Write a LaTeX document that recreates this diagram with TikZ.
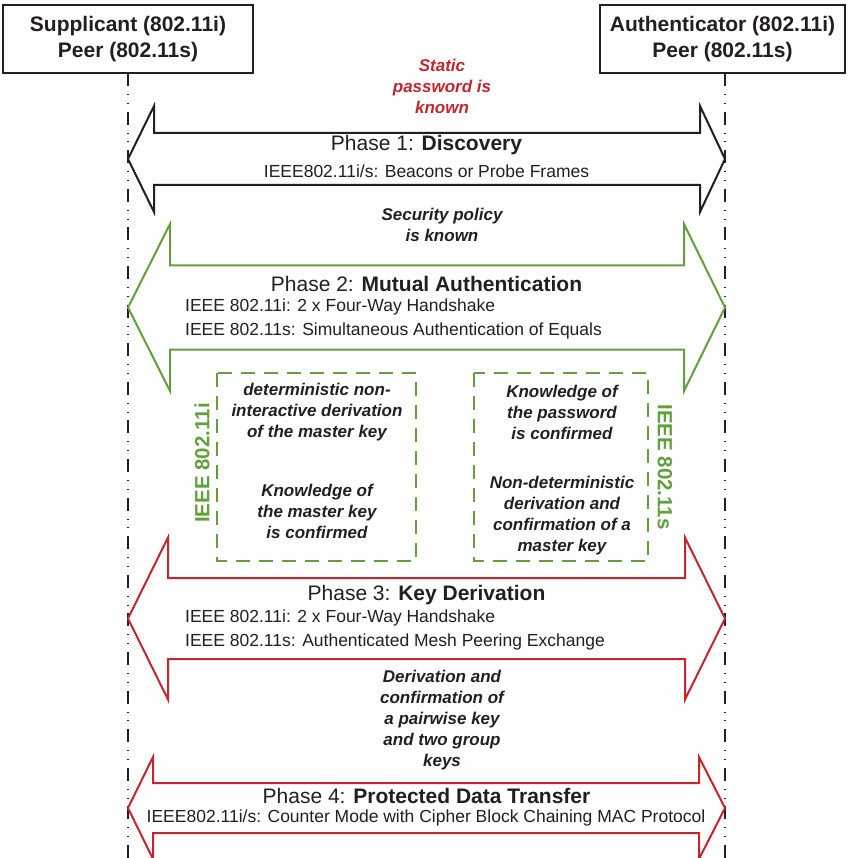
\documentclass[tikz,border=0pt]{standalone}
\usepackage{fontspec}
\setmainfont{Liberation Sans}
\begin{document}
\definecolor{ink}{HTML}{231F20}
\definecolor{phgreen}{HTML}{62A03E}
\definecolor{phred}{HTML}{C1272D}
\newcommand\phasearrow[6]{%
  \draw[#1] (128,#2) -- (#3,#2-#5) -- (#3,#2-#6) -- (#4,#2-#6) -- (#4,#2-#5)
    -- (725,#2) -- (#4,#2+#5) -- (#4,#2+#6) -- (#3,#2+#6) -- (#3,#2+#5) -- cycle;}
\begin{tikzpicture}[x=1pt,y=-1pt,
  every node/.style={text=ink},
  titlebox/.style={draw=ink,line width=2pt,fill=white,align=center,inner sep=0pt,
    font=\fontsize{21}{26}\selectfont\bfseries},
  lifeline/.style={draw=ink,line width=1.2pt,
    dash pattern=on 13pt off 8pt on 0.8pt off 8pt on 0.8pt off 8pt},
  arrowblack/.style={draw=ink,line width=2pt,line join=miter},
  arrowgreen/.style={draw=phgreen,line width=2pt,line join=miter},
  arrowred/.style={draw=phred,line width=2pt,line join=miter},
  phasetitle/.style={font=\fontsize{21}{25}\selectfont,inner sep=0pt},
  phasesub/.style={font=\fontsize{17.5}{23.5}\selectfont,inner sep=0pt,align=left},
  note/.style={font=\fontsize{17}{21}\selectfont\bfseries\itshape,align=center,inner sep=0pt},
  dashbox/.style={draw=phgreen,line width=2.5pt,dash pattern=on 14pt off 9pt},
  stdlabel/.style={text=phgreen,font=\fontsize{20.5}{24}\selectfont\bfseries,inner sep=0pt}]
\useasboundingbox[fill=white] (0,0) rectangle (848,858);

% participants and their lifelines
\node[titlebox,minimum width=250pt,minimum height=68pt] (sup) at (128,39)
  {Supplicant (802.11i)\\Peer (802.11s)};
\node[titlebox,minimum width=245pt,minimum height=68pt] (auth) at (722.5,39)
  {Authenticator (802.11i)\\Peer (802.11s)};
\coordinate (supend) at (128,858);
\coordinate (authend) at (725,858);
\draw[lifeline] (128,73) -- (supend);
\draw[lifeline] (725,73) -- (authend);

% phase arrows
\phasearrow{arrowblack}{159}{154}{700}{53}{26}
\phasearrow{arrowgreen}{307.5}{170}{684}{83.5}{42}
\phasearrow{arrowred}{618.5}{168}{685}{81}{40.5}
\phasearrow{arrowred}{808}{153}{699}{51}{25}

% preconditions
\node[note,text=phred] (pw) at (442,86) {Static\\password is\\known};
\node[note] (pol) at (442,224.5) {Security policy\\is known};
\node[note] (keys) at (442,720) {Derivation and\\confirmation of\\a pairwise key\\and two group\\keys};

% phase 1
\node[phasetitle] (p1) at (426.5,145) {Phase 1: \textbf{Discovery}};
\node[phasesub] (p1s) at (426.5,171) {IEEE802.11i/s: Beacons or Probe Frames};

% phase 2
\node[phasetitle] (p2) at (426.5,284) {Phase 2: \textbf{Mutual Authentication}};
\node[phasesub,anchor=west] (p2a) at (185,307) {IEEE 802.11i: 2 x Four-Way Handshake};
\node[phasesub,anchor=west] (p2b) at (185,330.5) {IEEE 802.11s: Simultaneous Authentication of Equals};

% mutual authentication details
\draw[dashbox] (217,373) rectangle (416,561);
\draw[dashbox] (474,373) rectangle (648,561);
\node[stdlabel,rotate=90] (lbli) at (202,463) {IEEE 802.11i};
\node[stdlabel,rotate=-90] (lbls) at (665,467) {IEEE 802.11s};
\node[note] (di1) at (317,412) {deterministic non-\\interactive derivation\\of the master key};
\node[note] (di2) at (317,511) {Knowledge of\\the master key\\is confirmed};
\node[note] (ds1) at (562,412) {Knowledge of\\the password\\is confirmed};
\node[note] (ds2) at (562,515.5) {Non-deterministic\\derivation and\\confirmation of a\\master key};

% phase 3
\node[phasetitle] (p3) at (426.5,595) {Phase 3: \textbf{Key Derivation}};
\node[phasesub,anchor=west] (p3a) at (185,618) {IEEE 802.11i: 2 x Four-Way Handshake};
\node[phasesub,anchor=west] (p3b) at (185,641.5) {IEEE 802.11s: Authenticated Mesh Peering Exchange};

% phase 4
\node[phasetitle] (p4) at (426.5,796) {Phase 4: \textbf{Protected Data Transfer}};
\node[phasesub] (p4s) at (426,818) {IEEE802.11i/s: Counter Mode with Cipher Block Chaining MAC Protocol};
\end{tikzpicture}
\end{document}
